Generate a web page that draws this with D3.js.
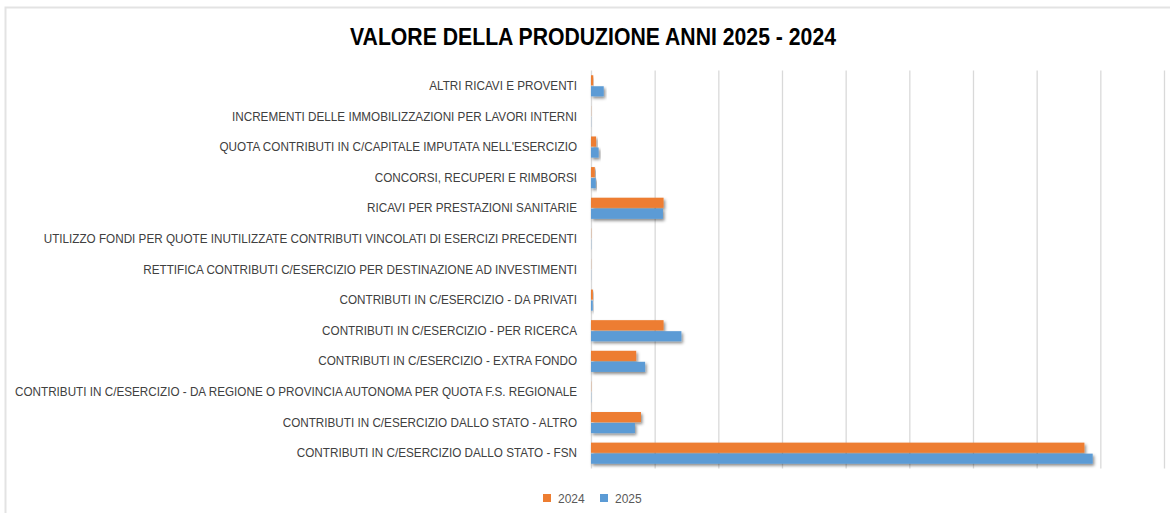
<!DOCTYPE html>
<html>
<head>
<meta charset="utf-8">
<script src="https://cdn.jsdelivr.net/npm/d3@7"></script>
<style>
  html, body { margin: 0; padding: 0; background: #ffffff; }
  svg { display: block; }
</style>
</head>
<body>
<svg id="chart" width="1170" height="513"></svg>
<script>
// ---- data (top-to-bottom order as shown) ----
const categories = [
  "ALTRI RICAVI E PROVENTI",
  "INCREMENTI DELLE IMMOBILIZZAZIONI PER LAVORI INTERNI",
  "QUOTA CONTRIBUTI IN C/CAPITALE IMPUTATA NELL'ESERCIZIO",
  "CONCORSI, RECUPERI E RIMBORSI",
  "RICAVI PER PRESTAZIONI SANITARIE",
  "UTILIZZO FONDI PER QUOTE INUTILIZZATE CONTRIBUTI VINCOLATI DI ESERCIZI PRECEDENTI",
  "RETTIFICA CONTRIBUTI C/ESERCIZIO PER DESTINAZIONE AD INVESTIMENTI",
  "CONTRIBUTI IN C/ESERCIZIO - DA PRIVATI",
  "CONTRIBUTI IN C/ESERCIZIO - PER RICERCA",
  "CONTRIBUTI IN C/ESERCIZIO - EXTRA FONDO",
  "CONTRIBUTI IN C/ESERCIZIO - DA REGIONE O PROVINCIA AUTONOMA PER QUOTA F.S. REGIONALE",
  "CONTRIBUTI IN C/ESERCIZIO DALLO STATO - ALTRO",
  "CONTRIBUTI IN C/ESERCIZIO DALLO STATO - FSN"
];
const seriesNames = ["2024", "2025"];
const values2024 = [0.35, 0.02, 0.8, 0.6, 11.4, 0.03, 0.02, 0.3, 11.4, 7.1, 0.03, 7.85, 77.5];
const values2025 = [2.0, 0.02, 1.2, 0.75, 11.3, 0.03, 0.02, 0.28, 14.2, 8.5, 0.03, 6.9, 78.8];
const tickValues = [0, 10, 20, 30, 40, 50, 60, 70, 80, 90];
const colors = { "2024": "#ED7D31", "2025": "#5B9BD5" };
const title = "VALORE DELLA PRODUZIONE ANNI 2025 - 2024";

const data = categories.map((c, i) => ({ cat: c, "2024": values2024[i], "2025": values2025[i] }));

const svg = d3.select("#chart");
const W = 1170, H = 513;

// chart frame
svg.append("rect").attr("x", 5.5).attr("y", 7.5).attr("width", W).attr("height", H)
  .attr("fill", "#ffffff").attr("stroke", "#e3e3e3").attr("stroke-width", 2);

const defs = svg.append("defs");
const f = defs.append("filter").attr("id", "shadow").attr("x", "-20%").attr("y", "-50%").attr("width", "140%").attr("height", "220%");
f.append("feDropShadow").attr("dx", 1.5).attr("dy", 2).attr("stdDeviation", 1.4)
  .attr("flood-color", "#000").attr("flood-opacity", 0.45);

const plot = { left: 591, right: 1164, top: 70.5, bottom: 468.5 };

const x = d3.scaleLinear().domain([0, 90]).range([plot.left, plot.right]);
const y = d3.scaleBand().domain(categories).range([plot.top, plot.bottom]).paddingInner(0.31).paddingOuter(0.155);
const ySub = d3.scaleBand().domain(seriesNames).range([0, y.bandwidth()]).paddingInner(0.08);

// gridlines
const grid = svg.append("g").attr("class", "grid")
  .attr("transform", `translate(0,${plot.bottom})`)
  .call(d3.axisBottom(x).tickValues(tickValues).tickSize(-(plot.bottom - plot.top)).tickFormat(""));
grid.select(".domain").remove();
grid.selectAll(".tick line").attr("stroke", "#d9d9d9").attr("stroke-width", 1.3);

// bars
const groups = svg.append("g").selectAll("g").data(data).join("g")
  .attr("transform", d => `translate(0,${y(d.cat)})`);
groups.selectAll("rect").data(d => seriesNames.map(s => ({ s, v: d[s] }))).join("rect")
  .attr("x", x(0))
  .attr("y", d => ySub(d.s))
  .attr("height", ySub.bandwidth())
  .attr("width", d => Math.max(0, x(d.v) - x(0)))
  .attr("fill", d => colors[d.s])
  .attr("filter", "url(#shadow)");

// category labels (condensed to mimic a narrow font)
const yAxis = svg.append("g").attr("transform", `translate(${plot.left},0)`)
  .call(d3.axisLeft(y).tickSize(0).tickPadding(14));
yAxis.select(".domain").remove();
const labels = yAxis.selectAll("text")
  .attr("font-family", "'Liberation Sans', Arial, sans-serif")
  .attr("font-size", 12.8)
  .attr("fill", "#404040");
let maxW = 0;
const widths = [];
labels.each(function() { const w = this.getComputedTextLength(); widths.push(w); maxW = Math.max(maxW, w); });
const ratio = 562 / maxW;
labels.each(function(d, i) {
  d3.select(this).attr("textLength", (widths[i] * ratio).toFixed(1)).attr("lengthAdjust", "spacingAndGlyphs");
});

// title
svg.append("text").attr("x", 593).attr("y", 45).attr("text-anchor", "middle")
  .attr("font-family", "'Liberation Sans', Arial, sans-serif").attr("font-weight", "bold")
  .attr("font-size", 23).attr("fill", "#000")
  .attr("textLength", 486).attr("lengthAdjust", "spacingAndGlyphs")
  .text(title);

// legend
const legend = svg.append("g");
const legX = [543, 600];
seriesNames.forEach((s, i) => {
  legend.append("rect").attr("x", legX[i]).attr("y", 494).attr("width", 8).attr("height", 8).attr("fill", colors[s]);
  legend.append("text").attr("x", legX[i] + 15).attr("y", 502.5)
    .attr("font-family", "'Liberation Sans', Arial, sans-serif").attr("font-size", 12)
    .attr("fill", "#595959").text(s);
});
</script>
</body>
</html>
